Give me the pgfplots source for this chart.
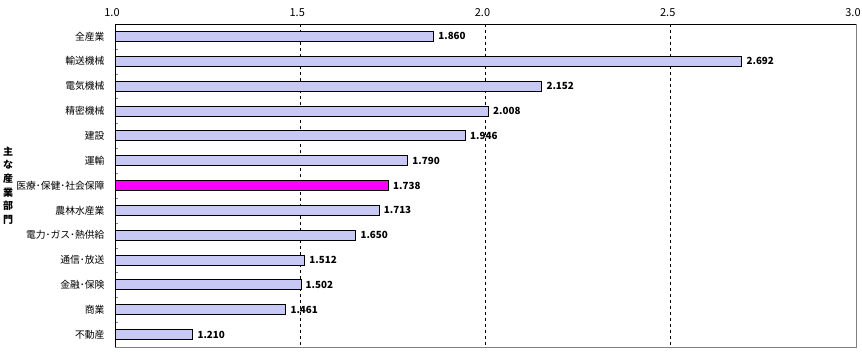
\documentclass[border=0pt]{standalone}
\usepackage{fontspec}
\setmainfont{Noto Sans CJK JP}
\usepackage{pgfplots}
\pgfplotsset{compat=1.18}
\definecolor{barfill}{RGB}{200,200,244}
\definecolor{hl}{RGB}{255,0,255}
\begin{document}
\begin{tikzpicture}
\begin{axis}[
  scale only axis,
  width=741pt, height=323pt,
  xbar, bar width=10pt, bar shift=0pt,
  xmin=1, xmax=3,
  ymin=-0.5, ymax=12.5,
  y dir=reverse,
  xtick={1,1.5,2,2.5,3},
  xticklabel pos=right,
  major x tick style={draw=none},
  extra x ticks={1.5,2,2.5},
  extra x tick labels={},
  extra x tick style={grid=major, major tick length=0pt},
  grid style={black, dashed, line width=0.8pt},
  x tick label style={font=\fontsize{11}{12}\selectfont, yshift=4pt, xshift=-3pt, /pgf/number format/.cd, fixed, zerofill, precision=1, assume math mode=true},
  ytick={0,...,12},
  yticklabels={全産業,輸送機械,電気機械,精密機械,建設,運輸,医療･保健･社会保障,農林水産業,電力･ガス･熱供給,通信･放送,金融･保険,商業,不動産},
  y tick label style={font=\fontsize{9.8}{11}\selectfont, xshift=-7pt},
  major y tick style={draw=none},
  minor ytick={0.5,1.5,...,11.5},
  minor tick length=3pt,
  tick align=inside,
  ytick pos=left,
  axis line style={draw=gray, line width=0.8pt},
  nodes near coords,
  every node near coord/.append style={font=\bfseries\fontsize{9.8}{10}\selectfont, anchor=west, xshift=1pt, /pgf/number format/.cd, fixed, zerofill, precision=3, assume math mode=true},
  clip=false,
]
\addplot[draw=black, fill=barfill, line width=0.8pt] coordinates {
(1.860,0) (2.692,1) (2.152,2) (2.008,3) (1.946,4) (1.790,5)
(1.713,7) (1.650,8) (1.512,9) (1.502,10) (1.461,11) (1.210,12)};
\addplot[draw=black, fill=hl, line width=0.8pt] coordinates {(1.738,6)};
\draw[black, line width=0.9pt] (axis description cs:0,0) -- (axis description cs:0,1) -- (axis description cs:1,1);
\node[font=\bfseries\fontsize{10}{13.7}\selectfont, align=center] at (axis description cs:-0.1444,0.5) {主\\な\\産\\業\\部\\門};
\coordinate (sw) at (axis description cs:0,0);
\end{axis}
\pgfresetboundingbox
\path (sw) ++(-115pt,-4pt) rectangle ++(862pt,351pt);
\end{tikzpicture}
\end{document}
